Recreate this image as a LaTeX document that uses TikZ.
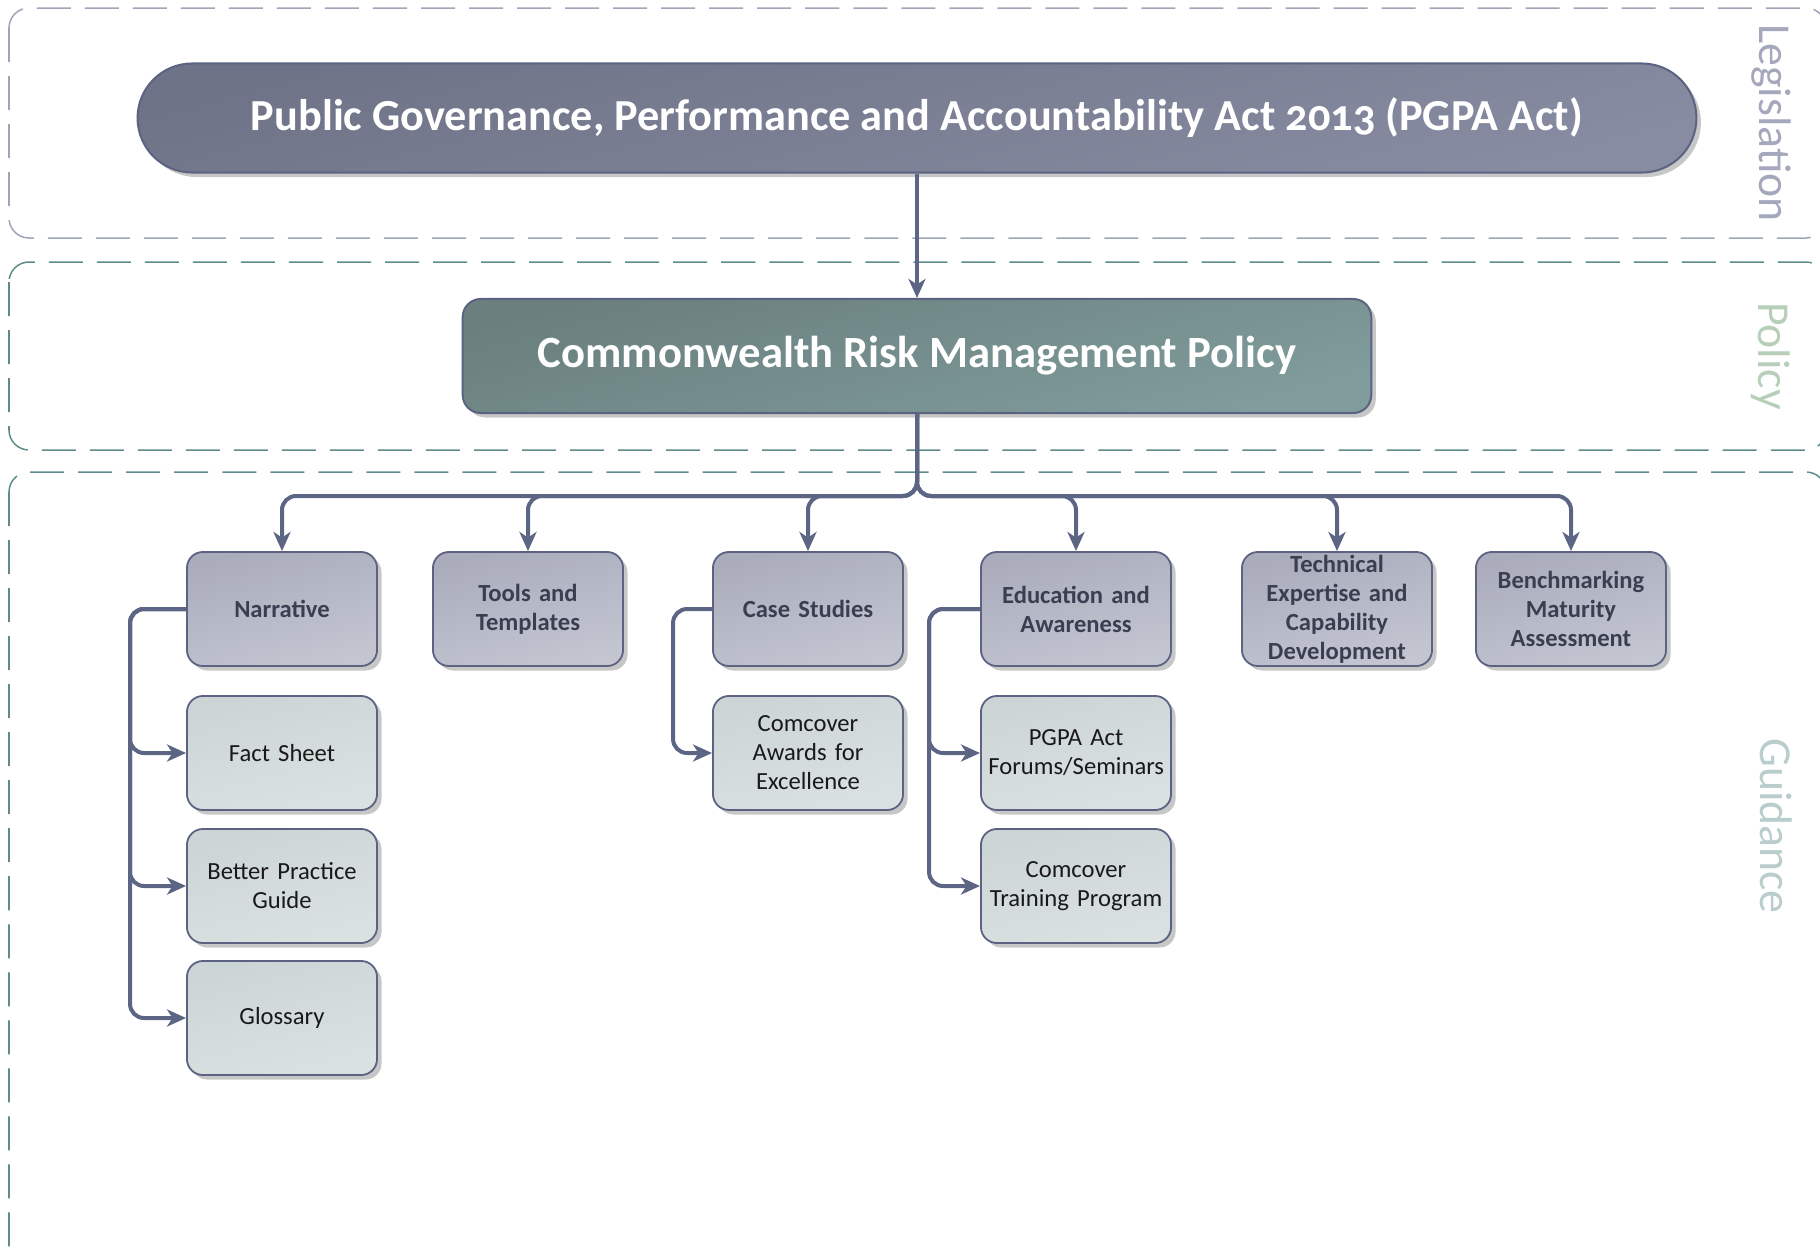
\documentclass[tikz,border=0pt]{standalone}
\usepackage{fontspec}
\setmainfont{Carlito}
\usepackage{xcolor}
\usetikzlibrary{arrows.meta,shadows}

\definecolor{edge}{HTML}{5B6282}
\definecolor{wire}{HTML}{5D6585}
\definecolor{lawline}{HTML}{A0A4B8}
\definecolor{tealline}{HTML}{5E8C8A}
\definecolor{lawtext}{HTML}{A5A8BD}
\definecolor{policytext}{HTML}{B7CFB9}
\definecolor{guidetext}{HTML}{B9CDCD}
\definecolor{topicink}{HTML}{3B3E50}
\definecolor{actA}{HTML}{6F7387}
\definecolor{actB}{HTML}{888CA2}
\definecolor{crmpA}{HTML}{6A7F7E}
\definecolor{crmpB}{HTML}{809C9C}
\definecolor{topicA}{HTML}{AAACBC}
\definecolor{topicB}{HTML}{C3C6D1}
\definecolor{subA}{HTML}{CCD5D6}
\definecolor{subB}{HTML}{DAE1E1}

\tikzset{
  zone/.style={line width=0.015cm, dash pattern=on 0.34cm off 0.14cm, rounded corners=0.2cm},
  band/.style={rotate=-90, font=\fontsize{13}{15}\selectfont},
  boxshadow/.style={drop shadow={shadow xshift=0.045cm, shadow yshift=-0.045cm, fill=black!22, opacity=1}},
  act/.style={draw=edge, line width=0.02cm, rounded corners=0.545cm,
    minimum width=15.58cm, minimum height=1.09cm, boxshadow,
    top color=actA, bottom color=actB, shading angle=15,
    text=white, font=\bfseries\fontsize{12.6}{15}\selectfont\addfontfeatures{Numbers=OldStyle}},
  policy/.style={draw=edge, line width=0.02cm, rounded corners=0.18cm,
    minimum width=9.08cm, minimum height=1.14cm, boxshadow,
    top color=crmpA, bottom color=crmpB, shading angle=15,
    text=white, font=\bfseries\fontsize{12.7}{15}\selectfont},
  card/.style={draw=edge, line width=0.018cm, rounded corners=0.16cm,
    minimum width=1.9cm, minimum height=1.14cm, text width=1.75cm,
    inner xsep=0.075cm, inner ysep=0pt, align=center, boxshadow},
  topic/.style={card, top color=topicA, bottom color=topicB, shading angle=15,
    text=topicink, font=\bfseries\fontsize{7}{8.25}\selectfont},
  subtopic/.style={card, top color=subA, bottom color=subB, shading angle=15,
    text=black!90, font=\fontsize{7}{8.25}\selectfont},
  link/.style={draw=wire, line width=0.04cm, rounded corners=0.14cm,
    -{Stealth[length=0.19cm,width=0.17cm,inset=0.055cm]}},
}

\begin{document}
\begin{tikzpicture}[x=0.01cm,y=-0.01cm]
  \useasboundingbox (0,0) rectangle (1820,1260);
  \clip (0,0) rectangle (1820,1260);

  % dashed bands
  \draw[zone, draw=lawline] (9,8) rectangle (1826,238);
  \draw[zone, draw=tealline] (9,262) rectangle (1826,450);
  \draw[zone, draw=tealline] (9,472) rectangle (1826,1275);
  \node[band, text=lawtext] (leg) at (1771,123) {Legislation};
  \node[band, text=policytext] (pol) at (1771,356) {Policy};
  \node[band, text=guidetext] (gui) at (1776,826) {Guidance};

  % act and policy
  \node[act] (act) at (917,118) {Public Governance, Performance and Accountability Act 2013 (PGPA Act)};
  \node[policy] (crmp) at (917,356) {Commonwealth Risk Management Policy};

  % guidance topics
  \node[topic] (narr) at (282,609) {Narrative};
  \node[topic] (tools) at (528,609) {Tools and\\Templates};
  \node[topic] (cases) at (808,609) {Case Studies};
  \node[topic] (edu) at (1076,609) {Education and\\Awareness};
  \node[topic] (tech) at (1337,609) {Technical\\Expertise and\\Capability\\Development};
  \node[topic] (bench) at (1571,609) {Benchmarking\\Maturity\\Assessment};

  \node[subtopic] (fact) at (282,753) {Fact Sheet};
  \node[subtopic] (guide) at (282,886) {Better Practice\\Guide};
  \node[subtopic] (gloss) at (282,1018) {Glossary};
  \node[subtopic] (awards) at (808,753) {Comcover\\Awards for\\Excellence};
  \node[subtopic] (forums) at (1076,753) {PGPA Act\\Forums/Seminars};
  \node[subtopic] (training) at (1076,886) {Comcover\\Training Program};

  % connectors
  \draw[link] (act) -- (crmp);
  \coordinate (bus) at (917,496);
  \foreach \n in {narr,tools,cases,edu,tech,bench}
    \draw[link] (crmp.south) |- (\n.north |- bus) -- (\n.north);
  \foreach \n in {fact,guide,gloss}
    \draw[link] (narr.west) -- ++(-56,0) |- (\n.west);
  \draw[link] (cases.west) -- ++(-39,0) |- (awards.west);
  \foreach \n in {forums,training}
    \draw[link] (edu.west) -- ++(-51,0) |- (\n.west);
\end{tikzpicture}
\end{document}
